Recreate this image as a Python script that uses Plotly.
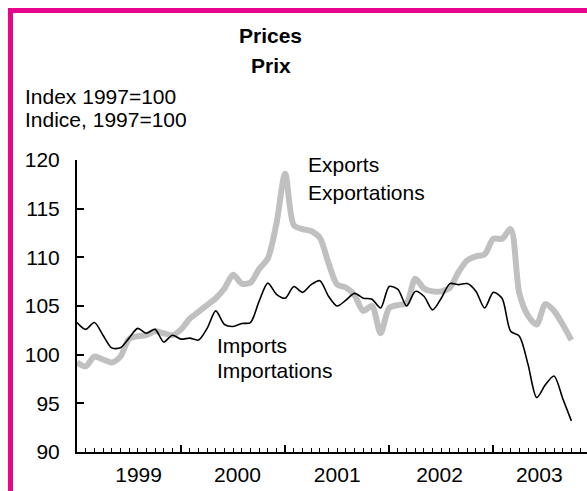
import plotly.graph_objects as go

# ---- data (monthly index, 1997=100) ----
exports = [99.2, 98.8, 99.8, 99.5, 99.2, 99.8, 101.6, 101.9, 102.0, 102.4,
           102.2, 102.0, 102.6, 103.7, 104.4, 105.1, 105.8, 106.8, 108.2, 107.3,
           107.4, 108.8, 109.9, 113.5, 118.6, 113.3, 112.9, 112.7, 112.0, 109.4,
           107.2, 106.9, 106.1, 104.5, 105.0, 102.2, 104.8, 105.1, 105.3, 107.8,
           106.8, 106.5, 106.5, 106.9, 108.5, 109.7, 110.1, 110.3, 111.9, 111.9,
           112.9, 106.3, 104.0, 103.1, 105.2, 104.5, 103.1, 101.5]
imports = [103.3, 102.6, 103.3, 102.0, 100.7, 100.7, 101.7, 102.7, 102.2, 102.6,
           101.3, 102.0, 101.6, 101.7, 101.5, 102.7, 104.5, 103.1, 102.9, 103.2,
           103.3, 105.5, 107.35, 106.2, 105.8, 107.0, 106.4, 107.2, 107.6, 106.0,
           105.0, 105.6, 106.3, 105.8, 105.7, 104.8, 107.0, 106.7, 105.0, 106.5,
           106.0, 104.6, 105.8, 107.3, 107.2, 107.3, 106.5, 104.8, 106.4, 105.8,
           102.4, 101.9, 99.0, 95.6, 96.9, 97.8, 95.5, 93.2]
months = list(range(len(exports)))

year_labels = ["1999", "2000", "2001", "2002", "2003"]
year_label_pos = [7.1, 18.5, 30.0, 41.8, 53.3]
year_ticks = [12, 24, 36, 48]
y_ticks = [90, 95, 100, 105, 110, 115, 120]

FONT = "Liberation Sans, Arial, sans-serif"
MAGENTA = "#e8058c"
X_RANGE = [0, 58.8]

fig = go.Figure()
fig.add_trace(go.Scatter(x=months, y=exports, mode="lines",
                         line=dict(color="#c0c0c0", width=6, shape="spline", smoothing=0.8),
                         hoverinfo="skip", showlegend=False))
fig.add_trace(go.Scatter(x=months, y=imports, mode="lines",
                         line=dict(color="#000000", width=1.6, shape="spline", smoothing=0.8),
                         hoverinfo="skip", showlegend=False))
# empty trace so that the label axis is drawn
fig.add_trace(go.Scatter(x=[], y=[], xaxis="x2", yaxis="y", showlegend=False, hoverinfo="skip"))

fig.update_layout(
    width=587, height=491, autosize=False,
    margin=dict(l=77, r=0, t=160, b=39, pad=0),
    paper_bgcolor="white", plot_bgcolor="white",
    font=dict(family=FONT, size=21, color="black"),
    xaxis=dict(range=X_RANGE, showgrid=False, zeroline=False,
               showline=True, linecolor="black", linewidth=2,
               tickmode="array", tickvals=year_ticks, showticklabels=False,
               ticks="inside", ticklen=7, tickwidth=1.5, tickcolor="black",
               minor=dict(ticks="inside", tickmode="linear", tick0=0, dtick=1,
                          ticklen=4, tickwidth=1.2, tickcolor="black")),
    xaxis2=dict(range=X_RANGE, overlaying="x", side="bottom", anchor="y",
                showgrid=False, zeroline=False, showline=False,
                tickmode="array", tickvals=year_label_pos, ticktext=year_labels,
                ticks="", ticklabelstandoff=8,
                tickfont=dict(family=FONT, size=21, color="black")),
    yaxis=dict(range=[90, 120], showgrid=False, zeroline=False,
               showline=True, linecolor="black", linewidth=2,
               tickmode="array", tickvals=y_ticks,
               ticks="inside", ticklen=7, tickwidth=2, tickcolor="black",
               ticklabelstandoff=11,
               tickfont=dict(family=FONT, size=21, color="black")),
)

def ann(text, x, y, xref="paper", yref="paper", xanchor="left", bold=False):
    fig.add_annotation(text=f"<b>{text}</b>" if bold else text, x=x, y=y,
                       xref=xref, yref=yref, xanchor=xanchor, yanchor="middle",
                       showarrow=False, font=dict(family=FONT, size=21, color="black"))

ann("Prices", 0.380, 1.428, xanchor="center", bold=True)
ann("Prix", 0.380, 1.322, xanchor="center", bold=True)
ann("Index 1997=100", -0.106, 1.216)
ann("Indice, 1997=100", -0.106, 1.137)
ann("Exports", 26.4, 119.5, xref="x", yref="y")
ann("Exportations", 26.4, 116.7, xref="x", yref="y")
ann("Imports", 15.9, 100.9, xref="x", yref="y")
ann("Importations", 15.9, 98.4, xref="x", yref="y")

# magenta frame (right and bottom sides fall outside the picture)
fig.add_shape(type="rect", xref="paper", yref="paper",
              x0=-0.1304, y0=-0.4, x1=1.1, y1=1.512,
              line=dict(color=MAGENTA, width=5), layer="above")

fig.write_html("out.html", config={"displayModeBar": False},
               post_script="document.body.style.margin='0';document.body.style.overflow='hidden';")
